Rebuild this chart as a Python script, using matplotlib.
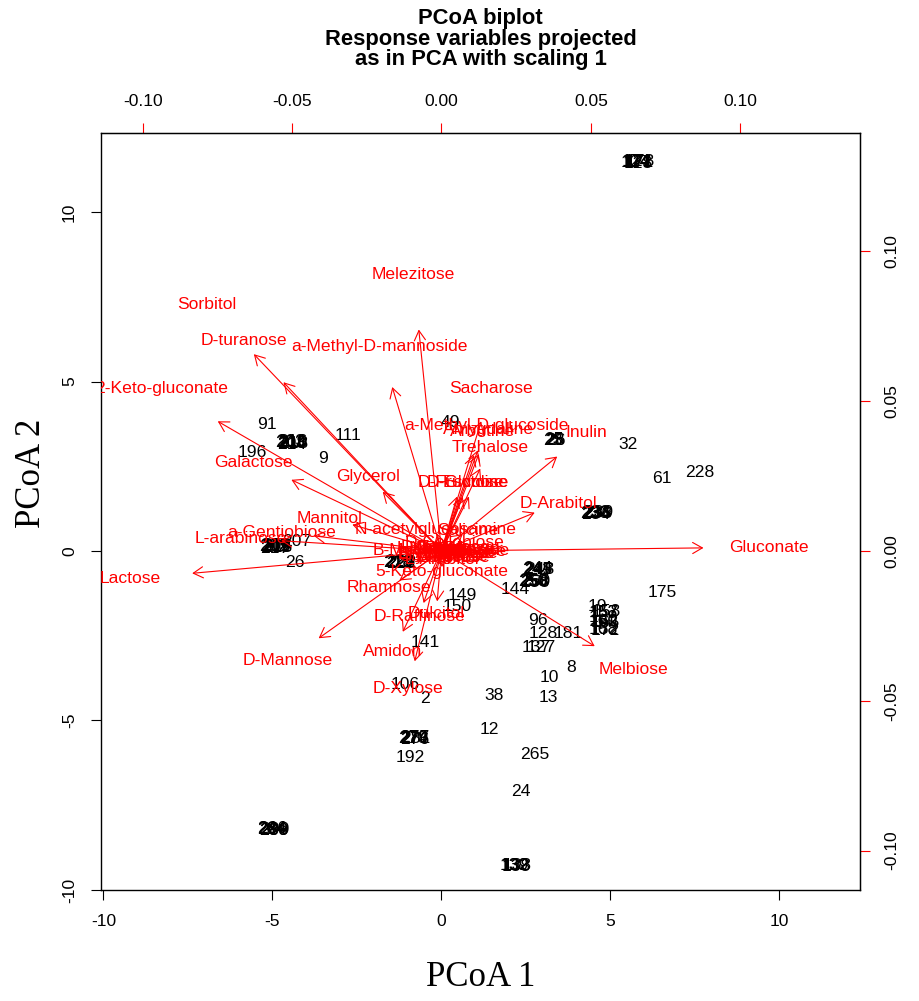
# PCoA-Biplot mit projizierten Antwortvariablen (Skalierung 1)
import matplotlib
matplotlib.use("Agg")
import matplotlib.pyplot as plt
from matplotlib.ticker import FormatStrFormatter

plt.rcParams["font.family"] = ["Liberation Sans", "DejaVu Sans"]
plt.rcParams["axes.unicode_minus"] = False

# ------------------------------------------------------------
# Objekte (PCoA 1 / PCoA 2)
# ------------------------------------------------------------
site_labels = ["91", "111", "196", "9", "207", "26", "149", "150", "144", "49",
               "32", "61", "228", "175", "19", "96", "128", "181", "137", "127",
               "141", "10", "8", "13", "38", "106", "2", "12", "192", "265", "24",
               # ueberlagerte Gruppen
               "124", "174", "177", "121", "171", "178", "128",
               "201", "203", "208", "210", "213", "214", "216",
               "202", "205", "209", "212", "215", "217", "206",
               "218", "219", "220", "222", "223",
               "241", "245", "247", "248", "244",
               "250", "253", "258", "260", "256",
               "23", "25", "28", "26",
               "230", "233", "236", "238", "239", "234",
               "153", "157", "158", "160", "162", "165", "168", "152", "172", "159",
               "270", "274", "277", "281", "279", "276",
               "284", "286", "288", "290", "244", "280",
               "139", "132", "138", "133"]
site_x = [-5.16, -2.77, -5.61, -3.51, -4.28, -4.33, 0.61, 0.46, 2.17, 0.25,
          5.52, 6.52, 7.65, 6.52, 4.60, 2.86, 3.00, 3.74, 2.80, 2.95,
          -0.49, 3.18, 3.83, 3.15, 1.55, -1.08, -0.49, 1.41, -0.93, 2.77, 2.35,
          5.73, 5.76, 5.79, 5.82, 5.85, 5.88, 5.81,
          -4.48, -4.45, -4.42, -4.39, -4.36, -4.44, -4.40,
          -4.96, -4.93, -4.90, -4.87, -4.84, -4.92, -4.88,
          -1.28, -1.25, -1.22, -1.19, -1.24,
          2.82, 2.85, 2.88, 2.91, 2.86,
          2.70, 2.73, 2.76, 2.79, 2.74,
          3.29, 3.32, 3.35, 3.38,
          4.52, 4.55, 4.58, 4.61, 4.64, 4.57,
          4.78, 4.82, 4.86, 4.77, 4.81, 4.85, 4.78, 4.81, 4.84, 4.80,
          -0.85, -0.82, -0.79, -0.76, -0.83, -0.80,
          -5.03, -5.00, -4.97, -4.94, -5.01, -4.96,
          2.16, 2.19, 2.22, 2.25]
site_y = [3.72, 3.42, 2.90, 2.74, 0.27, -0.35, -1.30, -1.65, -1.15, 3.78,
          3.13, 2.15, 2.33, -1.21, -1.65, -2.04, -2.42, -2.42, -2.86, -2.86,
          -2.71, -3.72, -3.45, -4.31, -4.25, -3.95, -4.34, -5.28, -6.08, -5.99, -7.08,
          11.47, 11.50, 11.45, 11.48, 11.46, 11.49, 11.44,
          3.19, 3.22, 3.17, 3.20, 3.18, 3.15, 3.23,
          0.12, 0.15, 0.10, 0.13, 0.11, 0.08, 0.16,
          -0.35, -0.33, -0.37, -0.35, -0.32,
          -0.56, -0.54, -0.58, -0.56, -0.53,
          -0.91, -0.89, -0.93, -0.91, -0.88,
          3.27, 3.29, 3.25, 3.27,
          1.12, 1.14, 1.10, 1.12, 1.13, 1.09,
          -1.80, -1.82, -1.79, -2.09, -2.07, -2.11, -2.33, -2.31, -2.35, -1.95,
          -5.52, -5.54, -5.50, -5.52, -5.49, -5.55,
          -8.22, -8.20, -8.24, -8.22, -8.19, -8.25,
          -9.29, -9.27, -9.31, -9.29]

# ------------------------------------------------------------
# Variablen (Einheiten der oberen / rechten Achse)
# ------------------------------------------------------------
var_names = ["Gluconate", "Melbiose", "Lactose", "L-arabinose", "a-Gentiobiose",
             "Mannitol", "Galactose", "2-Keto-gluconate", "Sorbitol", "D-turanose",
             "a-Methyl-D-mannoside", "Melezitose", "Glycerol", "Sacharose",
             "a-Methyl-D-glucoside", "Arbutine", "Amygdaline", "Trehalose", "Inulin",
             "D-Fructose", "D-Glucose", "Esculine", "D-Arabitol",
             "N-acetylglucosamine", "Salicine", "B-Methyl-xyloside", "D-Cellobiose",
             "D-Lyxose", "5-Keto-gluconate", "Rhamnose", "D-Raffinose", "Dulcitol",
             "Amidon", "D-Mannose", "D-Xylose", "Erythritol", "D-Arabinose",
             "D-Ribose", "L-Xylose", "Adonitol", "L-Sorbose", "Inositol",
             "D-Maltose", "Glycogene", "Xylitol", "D-Tagatose", "D-Fucose",
             "L-Fucose", "L-Arabitol"]
var_x = [0.1096, 0.0641, -0.1043, -0.0671, -0.0534,
         -0.0373, -0.0628, -0.0936, -0.0785, -0.0661,
         -0.0206, -0.0095, -0.0246, 0.0166,
         0.0152, 0.0136, 0.0156, 0.0162, 0.0484,
         0.0065, 0.0089, 0.0115, 0.0390,
         -0.0018, 0.0089, -0.0002, 0.0045,
         0.0095, 0.0002, -0.0176, -0.0075, -0.0018,
         -0.0162, -0.0514, -0.0112, -0.0032, 0.0015,
         0.0035, -0.0038, 0.0022, 0.0055, -0.0018,
         0.0045, -0.0005, 0.0028, 0.0012, 0.0069,
         0.0042, 0.0002]
var_y = [0.0013, -0.0397, -0.0093, 0.0043, 0.0063,
         0.0110, 0.0297, 0.0541, 0.0821, 0.0704,
         0.0684, 0.0924, 0.0247, 0.0541,
         0.0420, 0.0400, 0.0404, 0.0344, 0.0394,
         0.0227, 0.0227, 0.0227, 0.0160,
         0.0073, 0.0070, 0.0001, 0.0027,
         0.0000, -0.0067, -0.0123, -0.0217, -0.0210,
         -0.0337, -0.0364, -0.0460, -0.0013, -0.0007,
         -0.0017, 0.0007, -0.0023, -0.0007, 0.0010,
         0.0007, -0.0020, -0.0003, 0.0013, 0.0007,
         -0.0023, -0.0030]

# Verhaeltnis Hauptachsen / Nebenachsen
faktor = 88.4

fig = plt.figure(figsize=(9.19, 10.01), dpi=100)
ax = fig.add_axes([0.1099, 0.1109, 0.8259, 0.7562])
ax.set_xlim(-10.074, 12.382)
ax.set_ylim(-10.0, 12.33)

fs = 12.6

# Objekte als Text
for lab, x, y in zip(site_labels, site_x, site_y):
    ax.text(x, y, lab, ha="center", va="center", fontsize=fs,
            color="black", clip_on=True)

# Pfeile und Namen der Variablen
for name, x, y in zip(var_names, var_x, var_y):
    ax.annotate("", xy=(0.8 * x * faktor, 0.8 * y * faktor), xytext=(0, 0),
                arrowprops=dict(arrowstyle="->,head_length=0.7,head_width=0.4",
                                color="red", lw=0.8, shrinkA=0, shrinkB=0))
    ax.text(x * faktor, y * faktor, name, ha="center", va="center",
            fontsize=fs, color="red", clip_on=True)

# Achsen unten / links
ax.set_xticks([-10, -5, 0, 5, 10])
ax.set_yticks([-10, -5, 0, 5, 10])
ax.tick_params(direction="out", length=7.2, width=0.8, labelsize=fs, pad=10)
for t in ax.get_yticklabels():
    t.set_rotation(90)
    t.set_va("center")
for s in ax.spines.values():
    s.set_linewidth(1.0)

# Achsen oben / rechts (Variablen)
secx = ax.secondary_xaxis("top", functions=(lambda v: v / faktor, lambda v: v * faktor))
secx.set_xticks([-0.10, -0.05, 0.00, 0.05, 0.10])
secx.xaxis.set_major_formatter(FormatStrFormatter("%.2f"))
secx.tick_params(direction="out", length=7.2, width=0.8, color="red",
                 labelsize=fs, pad=10)

secy = ax.secondary_yaxis("right", functions=(lambda v: v / faktor, lambda v: v * faktor))
secy.set_yticks([-0.10, -0.05, 0.00, 0.05, 0.10])
secy.yaxis.set_major_formatter(FormatStrFormatter("%.2f"))
secy.tick_params(direction="out", length=7.2, width=0.8, color="red",
                 labelsize=fs, pad=10)
for t in secy.get_yticklabels():
    t.set_rotation(90)
    t.set_va("center")

# Titel und Achsenbeschriftung
titel = ["PCoA biplot", "Response variables projected", "as in PCA with scaling 1"]
for zeile, ypix in zip(titel, [18, 39, 60]):
    fig.text(480.5 / 919, 1 - ypix / 1001, zeile, ha="center", va="center",
             fontsize=15.8, fontweight="bold")
fig.text(481 / 919, 1 - 978 / 1001, "PCoA 1", ha="center", va="center",
         fontsize=25, family="Liberation Serif")
fig.text(31 / 919, 1 - 473 / 1001, "PCoA 2", ha="center", va="center",
         fontsize=25, family="Liberation Serif", rotation=90)

fig.savefig("out.png", dpi=100)
